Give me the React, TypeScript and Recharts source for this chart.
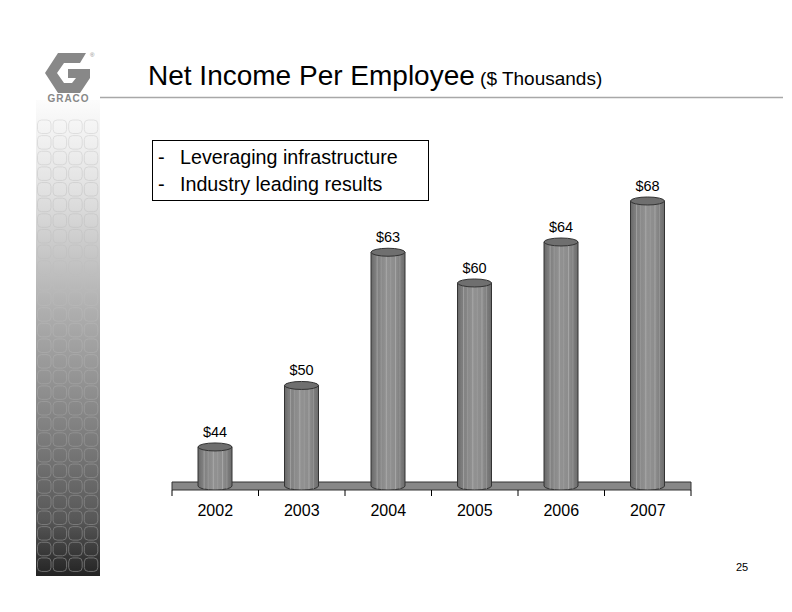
import React from 'react';
import { BarChart, Bar, XAxis, YAxis, ReferenceArea, LabelList } from 'recharts';

const years = ['2002', '2003', '2004', '2005', '2006', '2007'];
const values = [44, 50, 63, 60, 64, 68];
const valueLabels = ['$44', '$50', '$63', '$60', '$64', '$68'];
const bullets = ['Leveraging infrastructure', 'Industry leading results'];
const title = 'Net Income Per Employee';
const subtitle = '($ Thousands)';
const pageNumber = '25';

const data = years.map((y, i) => ({ year: y, value: values[i], label: valueLabels[i] }));

const CW = 792;
const CH = 612;
const XH = 30;
const M = { top: 180.5, right: 101, bottom: 122 - XH, left: 172 };
const PW = CW - M.left - M.right;
const BAND = PW / years.length;
const AXIS_Y = CH - M.bottom - XH;
const FONT = 'Arial, "Liberation Sans", Helvetica, sans-serif';
const Y_MIN = 39.8;
const Y_MAX = 70;
const FLOOR_TOP = 40.58;

const Cylinder = (props: any) => {
  const { x, y, width, height } = props;
  if (height == null || height <= 0) return null;
  const ry = 4;
  const rx = width / 2;
  const bottom = y + height - ry;
  const stripes = [0.18, 0.3, 0.45, 0.58, 0.72, 0.85];
  return (
    <g>
      <path
        d={`M ${x} ${y} L ${x} ${bottom} A ${rx} ${ry} 0 0 0 ${x + width} ${bottom} L ${x + width} ${y} Z`}
        fill="url(#cylBody)"
        stroke="#333"
        strokeWidth={1}
      />
      {stripes.map((s, i) => (
        <line
          key={i}
          x1={x + width * s}
          x2={x + width * s}
          y1={y}
          y2={bottom + ry * 0.8}
          stroke={i % 2 === 0 ? '#b8b8b8' : '#a4a4a4'}
          strokeOpacity={0.6}
          strokeWidth={1}
        />
      ))}
      <ellipse cx={x + rx} cy={y} rx={rx} ry={ry} fill="#6f6f6f" stroke="#333" strokeWidth={1} />
    </g>
  );
};

const ValueLabel = (props: any) => {
  const { x, y, width, value } = props;
  return (
    <text x={x + width / 2} y={y - 10} textAnchor="middle" fontSize={14.5} fontFamily={FONT} fill="#000">
      {value}
    </text>
  );
};

const YearTick = (props: any) => {
  const { x, payload, index } = props;
  const last = index === years.length - 1;
  return (
    <g>
      <line x1={x - BAND / 2} x2={x - BAND / 2} y1={AXIS_Y} y2={AXIS_Y + 6} stroke="#000" strokeWidth={1} />
      {last && <line x1={x + BAND / 2} x2={x + BAND / 2} y1={AXIS_Y} y2={AXIS_Y + 6} stroke="#000" strokeWidth={1} />}
      <text x={x} y={AXIS_Y + 26} textAnchor="middle" fontSize={16} fontFamily={FONT} fill="#000">
        {payload.value}
      </text>
    </g>
  );
};

const Sidebar = () => {
  const cols = 4;
  const rows = 29;
  const sq = [];
  for (let r = 0; r < rows; r++) {
    for (let c = 0; c < cols; c++) {
      sq.push(
        <rect
          key={`${r}-${c}`}
          x={37.5 + c * 15.6}
          y={120 + r * 15.64}
          width={13.5}
          height={13.5}
          rx={4}
          fill="none"
          stroke="url(#sqGrad)"
          strokeWidth={1}
        />
      );
    }
  }
  return (
    <g>
      <rect x={36} y={100} width={64} height={476} fill="url(#sideGrad)" />
      {sq}
    </g>
  );
};

const Logo = () => (
  <g fill="#888">
    <polygon points="58,53 86,53 80,63 64,63 57,73 64,83 72,83 76,78 68,78 68,69 90,69 90,78 80,93 58,93 45,73" />
    <text x={90} y={57} fontSize={6} fontFamily={FONT} fill="#888">®</text>
    <text x={68.5} y={102} textAnchor="middle" fontSize={10} fontWeight="bold" fontFamily={FONT} letterSpacing={1} fill="#888">
      GRACO
    </text>
  </g>
);

export default function App() {
  return (
    <div style={{ position: 'fixed', left: 0, top: 0, width: CW, height: CH, background: '#fff', overflow: 'hidden' }}>
      <svg width={CW} height={CH} style={{ position: 'absolute', left: 0, top: 0 }}>
        <defs>
          <linearGradient id="sideGrad" x1="0" y1="0" x2="0" y2="1">
            <stop offset="0" stopColor="#fcfcfc" />
            <stop offset="0.2" stopColor="#e0e0e0" />
            <stop offset="0.45" stopColor="#adadad" />
            <stop offset="0.7" stopColor="#7e7e7e" />
            <stop offset="0.88" stopColor="#585858" />
            <stop offset="1" stopColor="#232323" />
          </linearGradient>
          <linearGradient id="sqGrad" gradientUnits="userSpaceOnUse" x1="0" y1="100" x2="0" y2="576">
            <stop offset="0" stopColor="#e6e6e6" />
            <stop offset="0.2" stopColor="#cfcfcf" />
            <stop offset="0.45" stopColor="#b4b4b4" />
            <stop offset="0.7" stopColor="#909090" />
            <stop offset="1" stopColor="#6c6c6c" />
          </linearGradient>
        </defs>
        <Sidebar />
        <Logo />
        <text x={148} y={85} fontSize={28} fontFamily={FONT} fill="#000">
          {title}
          <tspan fontSize={19}>{' ' + subtitle}</tspan>
        </text>
        <line x1={100} x2={783} y1={97.5} y2={97.5} stroke="#a8a8a8" strokeWidth={1.5} />
        <rect x={152.5} y={140.5} width={276} height={60} fill="#fff" stroke="#000" strokeWidth={1} />
        {bullets.map((b, i) => (
          <g key={i}>
            <text x={158} y={164 + i * 26.5} fontSize={20} fontFamily={FONT} fill="#000">-</text>
            <text x={180} y={164 + i * 26.5} fontSize={19.7} fontFamily={FONT} fill="#000">{b}</text>
          </g>
        ))}
        <text x={742} y={571} textAnchor="middle" fontSize={11} fontFamily={FONT} fill="#000">{pageNumber}</text>
      </svg>
      <div style={{ position: 'absolute', left: 0, top: 0 }}>
        <BarChart width={CW} height={CH} data={data} margin={M} barSize={34}>
          <defs>
            <linearGradient id="cylBody" x1="0" y1="0" x2="1" y2="0">
              <stop offset="0" stopColor="#686868" />
              <stop offset="0.12" stopColor="#7c7c7c" />
              <stop offset="0.45" stopColor="#929292" />
              <stop offset="0.75" stopColor="#8c8c8c" />
              <stop offset="1" stopColor="#6c6c6c" />
            </linearGradient>
          </defs>
          <YAxis hide domain={[Y_MIN, Y_MAX]} type="number" allowDataOverflow />
          <XAxis dataKey="year" height={XH} axisLine={false} tickLine={false} tick={<YearTick />} interval={0} />
          <ReferenceArea x1={years[0]} x2={years[years.length - 1]} y1={Y_MIN} y2={FLOOR_TOP} fill="#878787" fillOpacity={1} stroke="#333" strokeWidth={1} />
          <Bar dataKey="value" shape={<Cylinder />} isAnimationActive={false}>
            <LabelList dataKey="label" content={<ValueLabel />} />
          </Bar>
        </BarChart>
      </div>
    </div>
  );
}
